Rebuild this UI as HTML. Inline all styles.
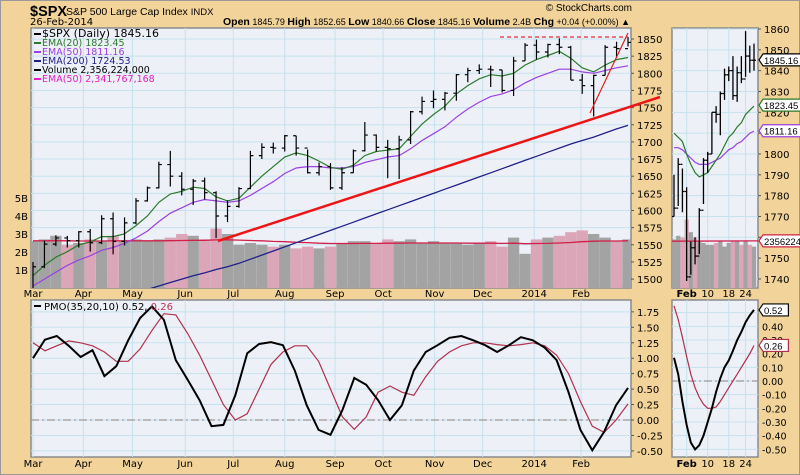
<!DOCTYPE html>
<html><head><meta charset="utf-8"><style>
html,body{margin:0;padding:0;background:#f2d49a;}
svg{display:block;font-family:"DejaVu Sans","Liberation Sans",sans-serif;}
</style></head><body>
<svg id="c" width="800" height="475" viewBox="0 0 800 475">
<rect x="0.5" y="0.5" width="799" height="474" fill="#f2d49a" stroke="#999"/>
<text x="30" y="16" font-size="14.5" font-weight="bold" font-family="Liberation Sans,sans-serif">$SPX</text>
<text x="66" y="15" font-size="10.5" font-family="Liberation Sans,sans-serif">S&amp;P 500 Large Cap Index <tspan font-size="9.5">INDX</tspan></text>
<text x="30" y="25" font-size="10">26-Feb-2014</text>
<text x="630" y="25" font-size="9" text-anchor="end" font-family="Liberation Sans,sans-serif"><tspan font-weight="bold" font-size="10.5">Open</tspan> 1845.79 <tspan font-weight="bold" font-size="10.5">High</tspan> 1852.65 <tspan font-weight="bold" font-size="10.5">Low</tspan> 1840.66 <tspan font-weight="bold" font-size="10.5">Close</tspan> 1845.16 <tspan font-weight="bold" font-size="10.5">Volume</tspan> 2.4B <tspan font-weight="bold" font-size="10.5">Chg</tspan> +0.04 (+0.00%) ▲</text>
<text x="632" y="11" font-size="10" text-anchor="end" font-family="Liberation Sans,sans-serif">© StockCharts.com</text>
</svg>
<script>
const weekCloses=[1518,1551,1560,1556,1569,1553,1588,1555,1582,1614,1633,1667,1650,1631,1643,1626,1592,1606,1632,1680,1692,1691,1709,1691,1655,1664,1633,1655,1687,1710,1692,1690,1703,1744,1759,1762,1771,1798,1804,1806,1805,1775,1818,1841,1831,1842,1838,1790,1782,1797,1838,1836,1845];
const weekHighs=[1525,1556,1564,1563,1570,1573,1593,1597,1590,1618,1635,1671,1687,1656,1646,1648,1628,1615,1634,1687,1698,1699,1710,1709,1689,1670,1669,1663,1689,1729,1711,1703,1709,1745,1766,1775,1773,1799,1808,1813,1811,1805,1824,1844,1849,1843,1851,1840,1799,1798,1841,1846,1853];
const weekLows=[1485,1516,1548,1546,1546,1540,1551,1536,1549,1580,1613,1632,1635,1622,1608,1616,1560,1583,1604,1631,1675,1683,1686,1680,1654,1651,1630,1630,1655,1686,1686,1647,1646,1697,1740,1749,1746,1760,1787,1799,1780,1772,1767,1818,1820,1823,1828,1790,1770,1737,1797,1824,1839];
const ema20=[1505,1520,1532,1540,1550,1554,1562,1562,1566,1578,1592,1612,1624,1628,1634,1632,1620,1614,1618,1634,1650,1664,1678,1684,1680,1672,1663,1660,1666,1680,1686,1688,1690,1708,1726,1740,1752,1770,1782,1792,1798,1796,1800,1812,1820,1826,1832,1822,1808,1802,1812,1820,1823];
const ema50=[1490,1500,1510,1520,1528,1534,1542,1546,1552,1560,1570,1584,1596,1604,1612,1616,1614,1612,1614,1622,1632,1642,1654,1662,1664,1664,1662,1662,1664,1670,1674,1678,1680,1690,1702,1712,1722,1736,1748,1758,1766,1770,1776,1786,1794,1800,1806,1806,1802,1800,1804,1808,1811];
const ema200=[1425,1431,1437,1443,1449,1455,1461,1467,1473,1479,1485,1490,1495,1500,1505,1509,1514,1518,1523,1529,1535,1541,1547,1553,1559,1565,1571,1577,1583,1589,1595,1601,1607,1613,1619,1625,1631,1637,1643,1649,1655,1661,1667,1673,1679,1685,1691,1697,1702,1707,1713,1719,1724];
const weekVolume=[2.6,2.7,2.9,2.4,2.5,2.7,2.6,2.9,2.6,2.7,2.6,2.7,2.8,3.0,2.9,2.7,3.3,3.0,2.4,2.5,2.4,2.3,2.4,2.2,2.3,2.2,2.3,2.5,2.6,2.6,2.5,2.7,2.6,2.7,2.5,2.6,2.5,2.5,2.4,2.5,2.6,2.3,2.8,1.9,2.7,2.8,2.9,3.1,3.2,3.0,2.8,2.6,2.7];
const volEma=[2.62,2.62,2.63,2.62,2.61,2.61,2.61,2.62,2.62,2.62,2.62,2.62,2.63,2.64,2.65,2.65,2.67,2.68,2.66,2.64,2.62,2.59,2.57,2.54,2.52,2.49,2.47,2.47,2.47,2.48,2.48,2.49,2.49,2.5,2.5,2.5,2.5,2.5,2.49,2.49,2.49,2.48,2.49,2.46,2.47,2.48,2.5,2.53,2.57,2.6,2.61,2.61,2.62];
const pmoLine=[1.0,1.3,1.36,1.2,1.02,1.13,0.71,0.87,1.29,1.65,1.84,1.62,0.97,0.65,0.32,-0.1,-0.08,0.4,1.08,1.23,1.26,1.21,0.8,0.24,-0.16,-0.24,0.16,0.68,0.57,0.32,0.0,0.24,0.8,1.1,1.21,1.33,1.36,1.29,1.21,1.1,1.21,1.34,1.29,1.17,0.97,0.45,-0.16,-0.49,-0.19,0.24,0.52];
const pmoSignal=[1.25,1.12,1.2,1.28,1.25,1.2,1.1,0.95,0.95,1.15,1.45,1.72,1.7,1.4,1.05,0.65,0.25,0.0,0.1,0.5,0.9,1.1,1.2,1.2,0.95,0.5,0.05,-0.15,0.05,0.45,0.55,0.45,0.4,0.7,0.95,1.1,1.2,1.25,1.25,1.22,1.2,1.22,1.25,1.2,1.05,0.75,0.3,-0.1,-0.2,0.0,0.26];
const monthLabels=["Mar","Apr","May","Jun","Jul","Aug","Sep","Oct","Nov","Dec","2014","Feb"];
const monthWeekIdx=[0,4.4,8.7,13.3,17.5,22,26.4,30.6,35.1,39.3,43.8,47.9];
const priceTicks=[1500,1525,1550,1575,1600,1625,1650,1675,1700,1725,1750,1775,1800,1825,1850];
const volTicks=[1,2,3,4,5];
const pmoTicks=[-0.5,-0.25,0,0.25,0.5,0.75,1,1.25,1.5,1.75];
const dayLabels=["Feb","10","18","24"];
const dayLabelIdx=[3,8,13,17];
const dayCloses=[1774,1795,1782,1741,1755,1751,1773,1797,1800,1820,1819,1829,1838,1840,1828,1839,1836,1847,1845,1845];
const dayHighs=[1790,1798,1793,1784,1758,1760,1774,1798,1801,1820,1823,1830,1841,1842,1847,1842,1847,1859,1852,1853];
const dayLows=[1770,1775,1772,1739,1742,1747,1752,1776,1791,1800,1815,1809,1826,1835,1826,1825,1834,1837,1839,1840];
const dayEma20=[1810,1808,1806,1800,1795,1791,1789,1790,1791,1794,1797,1800,1804,1808,1810,1813,1815,1819,1821,1823];
const dayEma50=[1803,1803,1802,1800,1798,1796,1795,1795,1795,1796,1797,1798,1800,1802,1803,1805,1806,1808,1810,1811];
const dayVolume=[2.7,2.9,2.8,3.8,3.1,2.8,2.6,2.5,2.4,2.4,2.5,2.6,2.3,2.5,2.6,2.6,2.4,2.6,2.4,2.3];
const dayPmo=[0.17,0.05,-0.15,-0.32,-0.45,-0.5,-0.47,-0.4,-0.3,-0.2,-0.08,0.02,0.1,0.15,0.22,0.3,0.36,0.43,0.48,0.52];
const daySignal=[0.55,0.45,0.32,0.18,0.05,-0.05,-0.12,-0.17,-0.2,-0.2,-0.19,-0.15,-0.1,-0.05,0.0,0.05,0.1,0.15,0.2,0.26];
const dayPriceTicks=[1740,1750,1760,1770,1780,1790,1800,1810,1820,1830,1840,1850,1860];
const dayPmoTicks=[-0.5,-0.4,-0.3,-0.2,-0.1,0,0.1,0.2,0.3,0.4,0.5];

const NS="http://www.w3.org/2000/svg";
const svg=document.getElementById('c');
function mk(tag,attrs,parent){const e=document.createElementNS(NS,tag);for(const k in attrs)e.setAttribute(k,attrs[k]);(parent||svg).appendChild(e);return e;}
const M={l:31,r:631,t:28,b:288}, P={t:300,b:457};
const R={l:672,r:758};
const xW=i=>M.l+2+i*(M.r-M.l-5)/(weekCloses.length-1);
const xP=i=>M.l+2+i*(M.r-M.l-5)/(pmoLine.length-1);
const yPrice=v=>39+(1850-v)*0.686;
const yVol=v=>M.b-v*18;
const yPmo=v=>420-v*61.8;
const xD=i=>R.l+2+i*(R.r-R.l-6)/(dayCloses.length-1);
const yDP=v=>29+(1860-v)*2.083;
const yDPmo=v=>381-v*136.7;

const defs=mk('defs',{});
const c1=mk('clipPath',{id:'cm'},defs);mk('rect',{x:M.l,y:M.t,width:M.r-M.l,height:M.b-M.t},c1);
const c2=mk('clipPath',{id:'cr'},defs);mk('rect',{x:R.l,y:M.t,width:R.r-R.l,height:M.b-M.t},c2);
const c3=mk('clipPath',{id:'cp'},defs);mk('rect',{x:M.l,y:P.t,width:M.r-M.l,height:P.b-P.t},c3);
const c4=mk('clipPath',{id:'crp'},defs);mk('rect',{x:R.l,y:P.t,width:R.r-R.l,height:P.b-P.t},c4);

function panel(x,y,w,h,name){const r=mk('rect',{x:x,y:y,width:w,height:h,fill:'#eef0f8',stroke:'#8a8a8a','stroke-width':1.5});}
panel(M.l,M.t,M.r-M.l,M.b-M.t,'price-panel');
panel(R.l,M.t,R.r-R.l,M.b-M.t,'zoom-price-panel');
panel(M.l,P.t,M.r-M.l,P.b-P.t,'pmo-panel');
panel(R.l,P.t,R.r-R.l,P.b-P.t,'zoom-pmo-panel');

const grid='#c5e2ee';
priceTicks.forEach(v=>{const y=yPrice(v);
 const g=mk('line',{x1:M.l,x2:M.r,y1:y,y2:y,stroke:grid,'stroke-width':1});
 const t=mk('text',{x:M.r+6,y:y+4,'font-size':10});t.textContent=v;
 mk('line',{x1:M.r,x2:M.r+3,y1:y,y2:y,stroke:'#555'});});
volTicks.forEach(v=>{const y=yVol(v);
 const t=mk('text',{x:M.l-3,y:y+4,'font-size':10,'text-anchor':'end'});t.textContent=v+'B';});
pmoTicks.forEach(v=>{const y=yPmo(v);
 const g=mk('line',{x1:M.l,x2:M.r,y1:y,y2:y,stroke:grid});
 const t=mk('text',{x:M.r+6,y:y+4,'font-size':10});t.textContent=v.toFixed(2);
 mk('line',{x1:M.r,x2:M.r+3,y1:y,y2:y,stroke:'#555'});});
monthLabels.forEach((m,i)=>{const x=xW(monthWeekIdx[i]);
 [[M.t,M.b],[P.t,P.b]].forEach(r=>{const g=mk('line',{x1:x,x2:x,y1:r[0],y2:r[1],stroke:grid});});
 [297,467].forEach(yy=>{const t=mk('text',{x:x,y:yy,'font-size':10,'text-anchor':'middle'});t.textContent=m;});});
dayPriceTicks.forEach(v=>{const y=yDP(v);
 const g=mk('line',{x1:R.l,x2:R.r,y1:y,y2:y,stroke:grid});
 const t=mk('text',{x:R.r+6,y:y+4,'font-size':10});t.textContent=v;
 mk('line',{x1:R.r,x2:R.r+3,y1:y,y2:y,stroke:'#555'});});
dayPmoTicks.forEach(v=>{const y=yDPmo(v);
 const g=mk('line',{x1:R.l,x2:R.r,y1:y,y2:y,stroke:grid});
 const t=mk('text',{x:R.r+4,y:y+4,'font-size':9.5});t.textContent=v.toFixed(2);});
dayLabels.forEach((d,i)=>{const x=xD(dayLabelIdx[i]);
 [[M.t,M.b],[P.t,P.b]].forEach(r=>{const g=mk('line',{x1:x,x2:x,y1:r[0],y2:r[1],stroke:grid});});
 [297,467].forEach(yy=>{const t=mk('text',{x:x,y:yy,'font-size':10,'text-anchor':'middle','font-weight':i==0?'bold':'normal'});t.textContent=d;});});

const gm=mk('g',{'clip-path':'url(#cm)'});
const bw=(M.r-M.l)/weekVolume.length;
weekVolume.forEach((v,i)=>{const up=i==0||weekCloses[i]>=weekCloses[i-1];
 const b=mk('rect',{x:xW(i)-bw/2,y:yVol(v),width:bw,height:M.b-yVol(v),fill:up?'#a3a3a3':'#dba6b8'},gm);
 });
function pathFrom(arr,xf,yf){return arr.map((v,i)=>(i?'L':'M')+xf(i).toFixed(1)+','+yf(v).toFixed(1)).join('');}
let e=mk('path',{d:pathFrom(volEma,xW,yVol),fill:'none',stroke:'#d0204a','stroke-width':1.3},gm);
e=mk('path',{d:pathFrom(ema200,xW,yPrice),fill:'none',stroke:'#20208a','stroke-width':1.3},gm);
e=mk('path',{d:pathFrom(ema50,xW,yPrice),fill:'none',stroke:'#9a40e0','stroke-width':1.2},gm);
e=mk('path',{d:pathFrom(ema20,xW,yPrice),fill:'none',stroke:'#2a7a2a','stroke-width':1.2},gm);
weekCloses.forEach((c,i)=>{const x=xW(i),o=i?weekCloses[i-1]:weekLows[0];
 const b=mk('path',{d:`M${x},${yPrice(weekHighs[i])}V${yPrice(weekLows[i])}M${x-3},${yPrice(o)}H${x}M${x},${yPrice(c)}H${x+3}`,stroke:'#000','stroke-width':1.2,fill:'none'},gm);
 });
e=mk('line',{x1:500,y1:37,x2:628,y2:37,stroke:'#e03030','stroke-dasharray':'4,3','stroke-width':1.2},gm);
e=mk('line',{x1:590,y1:113,x2:628,y2:33,stroke:'#e02020','stroke-width':1.2},gm);
e=mk('line',{x1:218,y1:241,x2:660,y2:97,stroke:'#ee1515','stroke-width':2.5});

const gr=mk('g',{'clip-path':'url(#cr)'});
const dbw=(R.r-R.l)/dayVolume.length;
dayVolume.forEach((v,i)=>{const up=i==0||dayCloses[i]>=dayCloses[i-1];
 const b=mk('rect',{x:xD(i)-dbw/2,y:yVol(v),width:dbw,height:M.b-yVol(v),fill:up?'#a3a3a3':'#dba6b8'},gr);
 });
e=mk('line',{x1:R.l,x2:R.r,y1:yVol(2.6),y2:yVol(2.62),stroke:'#d0204a','stroke-width':1.3},gr);
e=mk('path',{d:pathFrom(dayEma50,xD,yDP),fill:'none',stroke:'#9a40e0','stroke-width':1.2},gr);
e=mk('path',{d:pathFrom(dayEma20,xD,yDP),fill:'none',stroke:'#2a7a2a','stroke-width':1.2},gr);
dayCloses.forEach((c,i)=>{const x=xD(i),o=i?dayCloses[i-1]:dayLows[0];
 const b=mk('path',{d:`M${x},${yDP(dayHighs[i])}V${yDP(dayLows[i])}M${x-2},${yDP(o)}H${x}M${x},${yDP(c)}H${x+2}`,stroke:'#000','stroke-width':1.3,fill:'none'},gr);
 });

const gp=mk('g',{'clip-path':'url(#cp)'});
e=mk('line',{x1:M.l,x2:M.r,y1:yPmo(0),y2:yPmo(0),stroke:'#999','stroke-dasharray':'8,3,2,3','stroke-width':1.2},gp);
e=mk('path',{d:pathFrom(pmoSignal,xP,yPmo),fill:'none',stroke:'#b0304a','stroke-width':1.2},gp);
e=mk('path',{d:pathFrom(pmoLine,xP,yPmo),fill:'none',stroke:'#000','stroke-width':2},gp);
const grp=mk('g',{'clip-path':'url(#crp)'});
e=mk('line',{x1:R.l,x2:R.r,y1:yDPmo(0),y2:yDPmo(0),stroke:'#999','stroke-dasharray':'8,3,2,3','stroke-width':1.2},grp);
e=mk('path',{d:pathFrom(daySignal,xD,yDPmo),fill:'none',stroke:'#b0304a','stroke-width':1.2},grp);
e=mk('path',{d:pathFrom(dayPmo,xD,yDPmo),fill:'none',stroke:'#000','stroke-width':2},grp);

function tag(x,y,txt,col,name){const g=mk('g',{});
 const w=txt.length*5.6+3;
 mk('path',{d:`M${x},${y}l4,-6h${w}v12h-${w}z`,fill:'#fff',stroke:col,'stroke-width':1.2},g);
 const t=mk('text',{x:x+5,y:y+4,'font-size':9.5,fill:'#000','font-family':'Liberation Sans,sans-serif'},g);t.textContent=txt;}
tag(R.r+1,yDP(1845.16),'1845.16','#000','last-price-tag');
tag(R.r+1,yDP(1823.45),'1823.45','#2a7a2a','ema20-tag');
tag(R.r+1,yDP(1811.16),'1811.16','#9a40e0','ema50-tag');
tag(R.r+1,yVol(2.62),'2356224','#d0204a','volume-tag');
tag(R.r+1,yDPmo(0.52),'0.52','#000','pmo-tag');
tag(R.r+1,yDPmo(0.26),'0.26','#b0304a','pmo-signal-tag');

const leg=[["$SPX (Daily) 1845.16","#000"],["EMA(20) 1823.45","#2a7a2a"],["EMA(50) 1811.16","#9a40e0"],["EMA(200) 1724.53","#20208a"],["Volume 2,356,224,000","#000"],["EMA(50) 2,341,767,168","#e020c0"]];
const legNames=['legend-price','legend-ema20','legend-ema50','legend-ema200','legend-volume','legend-volume-ema'];
leg.forEach((l,i)=>{const y=36+i*9;
 mk('rect',{x:34,y:y-3,width:7,height:2,fill:l[1]});
 const t=mk('text',{x:42,y:y+1,'font-size':i==0?11:9.5,fill:l[1]});t.textContent=l[0];
 });
mk('rect',{x:34,y:305,width:7,height:2,fill:'#000'});
const pl=mk('text',{x:44,y:310,'font-size':10});
pl.innerHTML='PMO(35,20,10) 0.52, <tspan fill="#c03050">0.26</tspan>';
</script>
</body></html>
